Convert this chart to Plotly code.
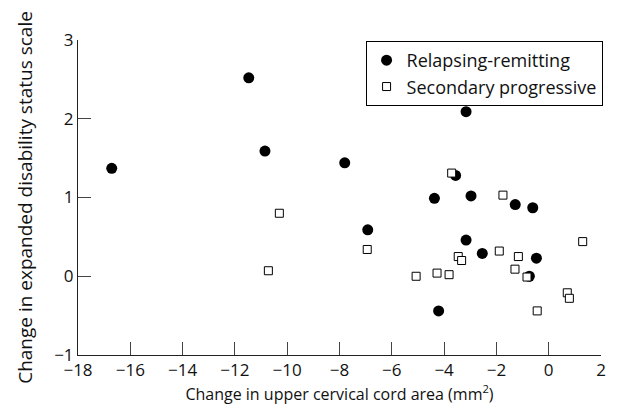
import plotly.graph_objects as go

rr_x = [-16.71, -11.47, -10.85, -7.8, -3.16, -3.56, -4.37, -2.97, -1.28, -0.61, -6.92, -3.16, -2.54, -0.47, -0.74, -4.21]
rr_y = [1.37, 2.52, 1.59, 1.44, 2.09, 1.28, 0.99, 1.02, 0.91, 0.87, 0.59, 0.46, 0.29, 0.23, 0.0, -0.44]

sp_x = [-3.71, -1.75, -6.94, -1.89, 1.3, -3.46, -3.33, -1.16, -1.29, -0.83, -5.07, -4.27, -3.81, -0.44, 0.71, 0.79, -10.30, -10.72]
sp_y = [1.31, 1.03, 0.34, 0.32, 0.44, 0.25, 0.20, 0.25, 0.09, -0.01, 0.0, 0.04, 0.02, -0.44, -0.21, -0.28, 0.80, 0.07]

x_ticks = [-18, -16, -14, -12, -10, -8, -6, -4, -2, 0, 2]
y_ticks = [-1, 0, 1, 2, 3]

FONT = "Open Sans"

fig = go.Figure()
fig.add_trace(go.Scatter(
    x=rr_x, y=rr_y, mode="markers", name="Relapsing-remitting",
    marker=dict(symbol="circle", size=11, color="black", line=dict(width=0)),
))
fig.add_trace(go.Scatter(
    x=sp_x, y=sp_y, mode="markers", name="Secondary progressive",
    marker=dict(symbol="square", size=8, color="white", line=dict(color="black", width=1)),
))

axis_common = dict(
    showgrid=False, zeroline=False, showline=True, linecolor="#222", linewidth=1,
    ticks="inside", ticklen=13, tickwidth=1, tickcolor="#444",
    tickfont=dict(family=FONT, size=17, color="#111"),
    automargin=False,
)

fig.update_xaxes(range=[-18, 2], tickvals=x_ticks, ticktext=[str(v).replace("-", "\u2212") for v in x_ticks],
                 title_text="Change in upper cervical cord area (mm<sup>2</sup>)", title_standoff=2,
                 title_font=dict(family=FONT, size=16, color="#111"),
                 **axis_common)
fig.update_yaxes(range=[-1, 3], tickvals=y_ticks, ticktext=[str(v).replace("-", "\u2212") for v in y_ticks],
                 title_text="Change in expanded disability status scale", title_standoff=16,
                 title_font=dict(family=FONT, size=19, color="#111"),
                 **axis_common)

# page body has an 8px margin, so the figure is offset by 8px
fig.update_layout(
    width=611, height=403,
    margin=dict(l=70, r=18, t=32, b=56),
    paper_bgcolor="white", plot_bgcolor="white",
    font=dict(family=FONT, size=16, color="#111"),
    legend=dict(
        x=1.003, xanchor="right", y=0.997, yanchor="top",
        bordercolor="black", borderwidth=1, bgcolor="white",
        font=dict(family=FONT, size=18, color="#111"),
        itemwidth=30,
    ),
)

fig.write_html("out.html")
